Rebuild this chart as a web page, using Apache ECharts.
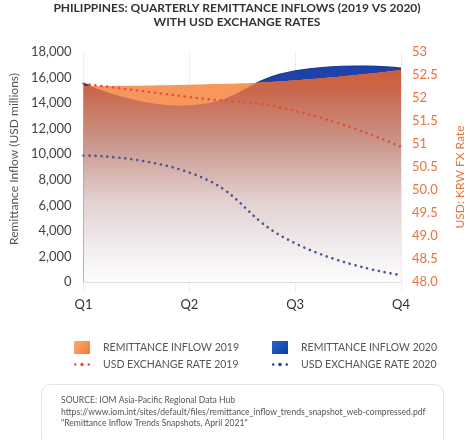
<!DOCTYPE html>
<html><head><meta charset="utf-8">
<script src="https://cdn.jsdelivr.net/npm/echarts@6/dist/echarts.min.js"></script>
<style>html,body{margin:0;padding:0;background:#fff}#c{width:474px;height:440px}</style>
</head><body><div id="c"></div>
<script>
const quarters = ['Q1', 'Q2', 'Q3', 'Q4'];
const remittance2019 = [15340, 15430, 15780, 16590];
const remittance2020 = [15570, 13830, 16520, 16740];
const fxRate2019 = [52.31, 52.02, 51.72, 50.94];
const fxRate2020 = [50.75, 50.38, 48.84, 48.15];
const leftTickLabels = ['0', '2,000', '4,000', '6,000', '8,000', '10,000', '12,000', '14,000', '16,000', '18,000'];
const rightTickLabels = ['48.0', '48.5', '49.0', '49.5', '50.0', '50.5', '51', '51.5', '52', '52.5', '53'];
const sourceLines = [
  'SOURCE: IOM Asia-Pacific Regional Data Hub',
  'https://www.iom.int/sites/default/files/remittance_inflow_trends_snapshot_web-compressed.pdf',
  '"Remittance Inflow Trends Snapshots, April 2021"'
];

const FONT = 'Lato';

function smoothCurve(pts, smooth) {
  const n = pts.length;
  let d = 'M ' + pts[0][0] + ' ' + pts[0][1];
  let cpx0 = pts[0][0], cpy0 = pts[0][1];
  for (let i = 1; i < n; i++) {
    const x = pts[i][0], y = pts[i][1];
    const px = pts[i - 1][0], py = pts[i - 1][1];
    let cpx1 = x, cpy1 = y, ncx = x, ncy = y;
    if (i < n - 1) {
      const nx = pts[i + 1][0], ny = pts[i + 1][1];
      const vx = nx - px, vy = ny - py;
      const l0 = Math.hypot(x - px, y - py), l1 = Math.hypot(nx - x, ny - y);
      const r = l1 / (l0 + l1);
      cpx1 = x - vx * smooth * (1 - r); cpy1 = y - vy * smooth * (1 - r);
      ncx = x + vx * smooth * r; ncy = y + vy * smooth * r;
    }
    d += ' C ' + cpx0 + ' ' + cpy0 + ' ' + cpx1 + ' ' + cpy1 + ' ' + x + ' ' + y;
    cpx0 = ncx; cpy0 = ncy;
  }
  return d;
}
function areaPaths(api, values) {
  const pts = values.map((v, i) => api.coord([i, v]));
  const base = api.coord([0, 0])[1];
  const curve = smoothCurve(pts, 0.5);
  const area = curve + ' L ' + pts[pts.length - 1][0] + ' ' + base + ' L ' + pts[0][0] + ' ' + base + ' Z';
  return { curve, area };
}

const dotIcon = 'path://M0,0m-1.2,0a1.2,1.2 0 1,0 2.4,0a1.2,1.2 0 1,0 -2.4,0M6.5,0m-1.7,0a1.7,1.7 0 1,0 3.4,0a1.7,1.7 0 1,0 -3.4,0M13,0m-1.2,0a1.2,1.2 0 1,0 2.4,0a1.2,1.2 0 1,0 -2.4,0';

const chart = echarts.init(document.getElementById('c'), null, { renderer: 'canvas' });

const option = {
  animation: false,
  backgroundColor: '#fff',
  textStyle: { fontFamily: FONT },
  title: {
    text: 'PHILIPPINES: QUARTERLY REMITTANCE INFLOWS (2019 VS 2020)\nWITH USD EXCHANGE RATES',
    left: 'center', top: 0, padding: [1, 0, 2, 10],
    textStyle: { fontFamily: FONT, fontWeight: 'bold', fontSize: 12, color: '#333', lineHeight: 14, align: 'center' }
  },
  grid: { left: 73, right: 64, top: 52, bottom: 158 },
  xAxis: {
    type: 'category', data: quarters, boundaryGap: false,
    axisLine: { lineStyle: { color: '#ddd', type: 'dotted' } },
    axisTick: { show: true, length: 10, lineStyle: { color: '#ddd', type: 'dotted' } },
    axisLabel: { color: '#333', fontSize: 13, margin: 16, fontFamily: FONT },
    splitLine: { show: true, lineStyle: { color: '#ddd', type: 'dotted' } }
  },
  yAxis: [{
    type: 'value', min: 0, max: 18000, interval: 2000,
    axisLine: { show: false }, axisTick: { show: false }, splitLine: { show: false },
    axisLabel: { color: '#444', fontSize: 13, margin: 12, fontFamily: FONT,
      formatter: v => leftTickLabels[Math.round(v / 2000)] },
    name: 'Remittance Inflow (USD millions)', nameLocation: 'middle', nameGap: 60,
    nameTextStyle: { color: '#555', fontSize: 12, fontFamily: FONT, padding: [0, 0, 0, 16] }
  }, {
    type: 'value', min: 48, max: 53, interval: 0.5, position: 'right',
    axisLine: { show: false }, axisTick: { show: false }, splitLine: { show: false },
    axisLabel: { color: '#e8743c', fontSize: 13, margin: 11, fontFamily: FONT,
      formatter: v => rightTickLabels[Math.round((v - 48) / 0.5)] },
    name: 'USD: KRW FX Rate', nameLocation: 'middle', nameGap: 53,
    nameTextStyle: { color: '#e8743c', fontSize: 12, fontFamily: FONT, padding: [0, 20, 0, 0] }
  }],
  legend: [{
    orient: 'vertical', left: 69, top: 336, itemWidth: 16, itemHeight: 13, itemGap: 5,
    textStyle: { color: '#555', fontSize: 10.5, fontFamily: FONT, padding: [0, 0, 0, 8] },
    data: [
      { name: 'REMITTANCE INFLOW 2019', icon: 'rect',
        itemStyle: { color: new echarts.graphic.LinearGradient(0, 0, 1, 1, [{ offset: 0, color: '#f9ad78' }, { offset: 1, color: '#f47a2c' }]), borderWidth: 0 } },
      { name: 'USD EXCHANGE RATE 2019', icon: dotIcon, itemStyle: { color: '#e8503a', borderWidth: 0 } }
    ]
  }, {
    orient: 'vertical', left: 267, top: 336, itemWidth: 16, itemHeight: 13, itemGap: 5,
    textStyle: { color: '#555', fontSize: 10.5, fontFamily: FONT, padding: [0, 0, 0, 8] },
    data: [
      { name: 'REMITTANCE INFLOW 2020', icon: 'rect',
        itemStyle: { color: new echarts.graphic.LinearGradient(0, 0, 1, 1, [{ offset: 0, color: '#2a66c8' }, { offset: 1, color: '#0b3d9c' }]), borderWidth: 0 } },
      { name: 'USD EXCHANGE RATE 2020', icon: dotIcon, itemStyle: { color: '#233f8f', borderWidth: 0 } }
    ]
  }],
  series: [{
    name: 'REMITTANCE INFLOW 2020', type: 'custom', coordinateSystem: 'cartesian2d',
    xAxisIndex: 0, yAxisIndex: 0, z: 1, data: [[0, 0]],
    itemStyle: { color: '#2042a8' },
    renderItem: function (params, api) {
      const a20 = areaPaths(api, remittance2020);
      return { type: 'group', children: [
        { type: 'path', shape: { pathData: a20.area }, style: { fill: '#2042a8' } },
        { type: 'path', shape: { pathData: a20.curve }, style: { fill: null, stroke: '#163a92', lineWidth: 1.2 } }
      ] };
    }
  }, {
    name: 'REMITTANCE INFLOW 2019', type: 'custom', coordinateSystem: 'cartesian2d',
    xAxisIndex: 0, yAxisIndex: 0, z: 2, data: [[0, 0]],
    itemStyle: { color: '#f8975c' },
    renderItem: function (params, api) {
      const a19 = areaPaths(api, remittance2019);
      const a20 = areaPaths(api, remittance2020);
      const yTop = api.coord([0, 17000])[1];
      const yBot = api.coord([0, 0])[1];
      const grad = new echarts.graphic.LinearGradient(0, yTop, 0, yBot, [
        { offset: 0, color: '#d05a34' },
        { offset: 0.12, color: '#c9684d' },
        { offset: 0.35, color: '#c99488' },
        { offset: 0.62, color: '#e2cfcf' },
        { offset: 0.85, color: '#f2edef' },
        { offset: 1, color: '#fdfdfd' }
      ], true);
      return { type: 'group', children: [
        { type: 'path', shape: { pathData: a19.area }, style: { fill: '#f8975c' } },
        { type: 'path', shape: { pathData: a20.area }, style: { fill: grad },
          clipPath: { type: 'path', shape: { pathData: a19.area } } }
      ] };
    }
  }, {
    name: 'USD EXCHANGE RATE 2019', type: 'line', yAxisIndex: 1, z: 5,
    data: fxRate2019, smooth: true, symbol: 'circle', showSymbol: false,
    itemStyle: { color: '#e0503a' },
    lineStyle: { color: '#e0503a', width: 2.6, type: [0.1, 5.9], cap: 'round' }
  }, {
    name: 'USD EXCHANGE RATE 2020', type: 'line', yAxisIndex: 1, z: 5,
    data: fxRate2020, smooth: true, symbol: 'circle', showSymbol: false,
    itemStyle: { color: '#4b5794' },
    lineStyle: { color: '#4b5794', width: 2.6, type: [0.1, 5.9], cap: 'round' }
  }],
  graphic: [{
    type: 'rect', left: 41, top: 384, z: 0,
    shape: { width: 402, height: 62, r: 9 },
    style: { fill: '#fff', stroke: '#e4e4e4', lineWidth: 1 }
  }, {
    type: 'text', left: 61, top: 395,
    style: { text: sourceLines.join('\n'), fill: '#555', font: '8.6px ' + FONT, lineHeight: 11.3 }
  }]
};
chart.setOption(option);
</script></body></html>
